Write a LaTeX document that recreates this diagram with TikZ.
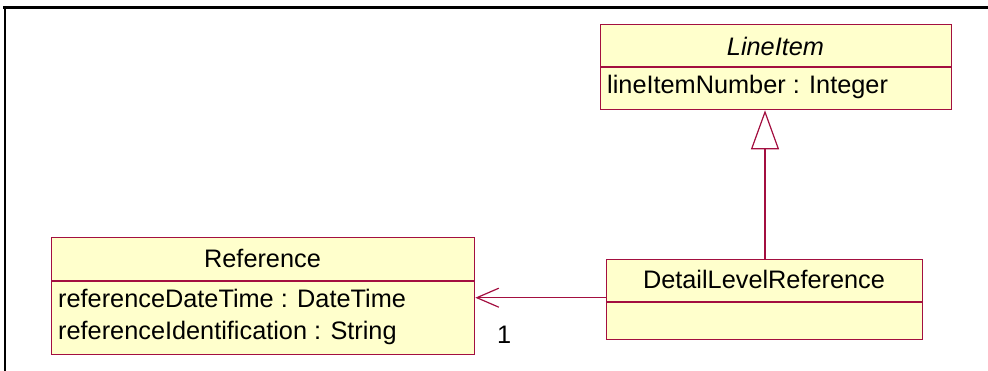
\documentclass[tikz,border=0pt]{standalone}
\usepackage{fontspec}
\setmainfont{Liberation Sans}
\usetikzlibrary{arrows.meta}
\definecolor{umlline}{HTML}{A30F40}
\definecolor{umlfill}{HTML}{FFFFCC}
\tikzset{
  classbox/.style={draw=umlline, fill=umlfill, line width=1.3pt, inner sep=0pt, anchor=north west},
  divider/.style={draw=umlline, line width=1.3pt},
  txt/.style={inner sep=0pt, font=\fontsize{25.3}{29}\selectfont},
  conn/.style={draw=umlline, line width=1.2pt},
}
\begin{document}
\begin{tikzpicture}[x=1pt,y=-1pt]
\useasboundingbox (0,0) rectangle (988,371);
% frame
\draw[line width=2.2pt] (3,7.5) -- (988,7.5);
\draw[line width=2.2pt] (5,6.5) -- (5,371);
% LineItem
\node[classbox, minimum width=351pt, minimum height=85pt] (li) at (600,24) {};
\draw[divider] (600,67) -- (951,67);
\node[txt, anchor=base, font=\fontsize{25.3}{29}\selectfont\itshape] (liname) at (775.5,56) {LineItem};
\node[txt, anchor=base west] (liattr) at (607,94) {lineItemNumber : Integer};
% Reference
\node[classbox, minimum width=423pt, minimum height=117pt] (ref) at (51,237) {};
\draw[divider] (51,281) -- (474,281);
\node[txt, anchor=base] (refname) at (262.5,268) {Reference};
\node[txt, anchor=base west] (refa1) at (58,308) {referenceDateTime : DateTime};
\node[txt, anchor=base west] (refa2) at (58,340) {referenceIdentification : String};
% DetailLevelReference
\node[classbox, minimum width=316pt, minimum height=80pt] (dlr) at (606,259) {};
\draw[divider] (606,302) -- (922,302);
\node[txt, anchor=base] (dlrname) at (764,289) {DetailLevelReference};
% connectors
\draw[conn, -{Triangle[open, length=39pt, width=28pt, fill=white]}] (dlr.north -| 765,0) -- (li.south -| 765,0);
\coordinate (assocend) at (ref.east |- 0,297.7);
\draw[conn, -{Straight Barb[length=22pt, width=19pt]}] (dlr.west |- 0,297.7) -- (assocend);
\node[txt, anchor=base west] (mult) at (497,344) {1};
\end{tikzpicture}
\end{document}
